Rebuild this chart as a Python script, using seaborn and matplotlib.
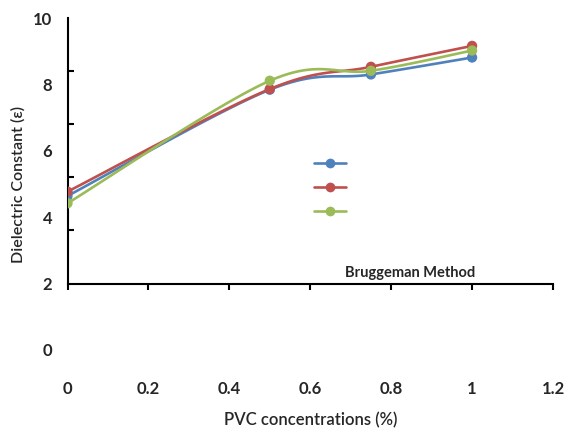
import numpy as np
import pandas as pd
import matplotlib
matplotlib.use("Agg")
import matplotlib.pyplot as plt
from matplotlib.lines import Line2D
import seaborn as sns

# ---------------------------------------------------------------------------
# Data
# ---------------------------------------------------------------------------
pvc = [0.0, 0.5, 0.75, 1.0]
eps_blue = [4.64, 7.84, 8.30, 8.81]
eps_red = [4.77, 7.86, 8.53, 9.16]
eps_green = [4.42, 8.11, 8.41, 9.02]

x_ticks = [0, 0.2, 0.4, 0.6, 0.8, 1.0, 1.2]
x_labels = ["0", "0.2", "0.4", "0.6", "0.8", "1", "1.2"]
y_labels = ["0", "2", "4", "6", "8", "10"]
y_marks = [2.0, 3.6, 5.2, 6.8, 8.4, 10.0]   # tick marks drawn on the axis line

series = {"blue": eps_blue, "red": eps_red, "green": eps_green}
colors = {"blue": "#4F81BD", "red": "#C0504D", "green": "#9BBB59"}


def excel_smooth(xs, ys, n=40):
    # bezier smoothing like Excel's "smoothed line"
    pts = np.column_stack([xs, ys]).astype(float)
    out = [pts[0]]
    t = np.linspace(0, 1, n)[1:, None]
    for i in range(len(pts) - 1):
        p0 = pts[i - 1] if i > 0 else pts[i]
        p1, p2 = pts[i], pts[i + 1]
        p3 = pts[i + 2] if i + 2 < len(pts) else pts[i + 1]
        c1 = p1 + (p2 - p0) / 6
        c2 = p2 - (p3 - p1) / 6
        seg = (1 - t) ** 3 * p1 + 3 * (1 - t) ** 2 * t * c1 + 3 * (1 - t) * t ** 2 * c2 + t ** 3 * p2
        out.extend(seg)
    return np.array(out)


sns.set_theme(style="white")
plt.rcParams["font.family"] = ["Lato", "DejaVu Sans"]

fig = plt.figure(figsize=(5.66, 4.32), dpi=100)
ax = fig.add_axes([67.5 / 566, 1 - 350 / 432, (553 - 67.5) / 566, 332 / 432])

for name, vals in series.items():
    curve = excel_smooth(pvc, vals)
    sns.lineplot(x=curve[:, 0], y=curve[:, 1], sort=False, color=colors[name], lw=1.9, ax=ax)

points = pd.DataFrame({
    "pvc": pvc * 3,
    "eps": eps_blue + eps_red + eps_green,
    "series": ["blue"] * 4 + ["red"] * 4 + ["green"] * 4,
})
sns.scatterplot(data=points, x="pvc", y="eps", hue="series", palette=colors,
                s=55, edgecolor="none", legend=False, ax=ax, zorder=3)

ax.set_xlim(0, 1.2)
ax.set_ylim(0, 10)

# axes lines
for side in ["top", "right"]:
    ax.spines[side].set_visible(False)
ax.spines["left"].set_bounds(2, 10)
ax.spines["bottom"].set_position(("data", 2))
for side in ["left", "bottom"]:
    ax.spines[side].set_color("black")
    ax.spines[side].set_linewidth(1.5)

ax.set_xticks(x_ticks)
ax.set_xticklabels(x_labels)
ax.tick_params(axis="x", direction="out", length=4, width=1.5, color="black",
               pad=66, labelsize=12, bottom=True)
ax.set_yticks([float(v) for v in y_labels])
ax.set_yticklabels(y_labels)
ax.tick_params(axis="y", which="major", length=0, pad=11, labelsize=12)
ax.set_yticks(y_marks, minor=True)
ax.tick_params(axis="y", which="minor", direction="in", length=4, width=1.5,
               color="black", left=True)
for lab in ax.get_xticklabels() + ax.get_yticklabels():
    lab.set_fontweight("bold")

ax.set_xlabel("PVC concentrations (%)", fontsize=12, fontweight="semibold")
ax.xaxis.set_label_coords(0.5, -0.188)
ax.set_ylabel("Dielectric Constant (ε)", fontsize=11.5, fontweight="semibold")
ax.yaxis.set_label_coords(-0.086, 0.5)

ax.text(0.846, 2.12, "Bruggeman Method", ha="center", va="bottom",
        fontsize=10.5, fontweight="bold")

handles = [Line2D([], [], color=colors[n], lw=1.9, marker="o", markersize=7,
                  markeredgewidth=0) for n in series]
ax.legend(handles, ["", "", ""], loc="center", bbox_to_anchor=(0.541, 0.486),
          frameon=False, handlelength=2.1, handletextpad=0, borderpad=0,
          labelspacing=0.65, fontsize=11)

fig.savefig("out.png", dpi=100)
